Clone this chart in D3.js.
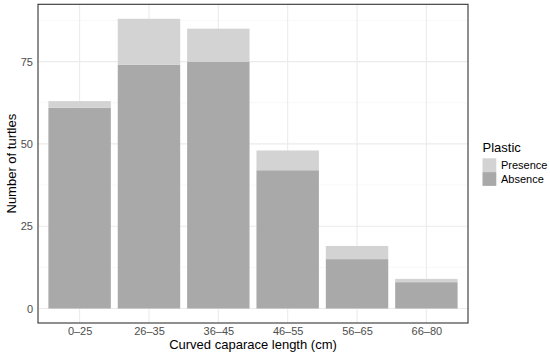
<!DOCTYPE html>
<html><head><meta charset="utf-8">
<script src="https://cdn.jsdelivr.net/npm/d3@7"></script>
<style>body{margin:0;background:#fff}svg{display:block;font-family:"Liberation Sans",Arial,sans-serif}</style>
</head><body><svg id="c" width="550" height="358"></svg>
<script>
const categories = ["0\u201325","26\u201335","36\u201345","46\u201355","56\u201365","66\u201380"];
const absence = [61, 74, 75, 42, 15, 8];
const presence = [2, 14, 10, 6, 4, 1];
const yTicks = [0, 25, 50, 75];
const yMinor = [12.5, 37.5, 62.5, 87.5];
const seriesNames = ["Presence", "Absence"];
const colors = {Presence: "#d3d3d3", Absence: "#a9a9a9"};

const svg = d3.select("#c");
const L = 38, R = 468, T = 4.3, B = 323;
const maxTot = d3.max(absence.map((a,i)=>a+presence[i]));
const y = d3.scaleLinear().domain([-maxTot*0.05, maxTot*1.05]).range([B, T]);
// ggplot: expansion 0.6 units each side, bar width 0.9
const step = (R - L) / (categories.length - 1 + 1.2);
const x = d3.scalePoint().domain(categories).range([L + 0.6*step, R - 0.6*step]);
const bw = 0.9 * step;

const g = svg.append("g");
// grid
g.selectAll(".ymin").data(yMinor).join("line").attr("x1", L).attr("x2", R)
  .attr("y1", d=>y(d)).attr("y2", d=>y(d)).attr("stroke", "#f2f2f2").attr("stroke-width", 0.6);
g.selectAll(".ymaj").data(yTicks).join("line").attr("x1", L).attr("x2", R)
  .attr("y1", d=>y(d)).attr("y2", d=>y(d)).attr("stroke", "#ebebeb").attr("stroke-width", 1.1);
g.selectAll(".xmaj").data(categories).join("line").attr("y1", T).attr("y2", B)
  .attr("x1", d=>x(d)).attr("x2", d=>x(d)).attr("stroke", "#ebebeb").attr("stroke-width", 1.1);

// bars
const stacked = categories.map((c,i)=>({c, a: absence[i], p: presence[i]}));
g.selectAll(".abs").data(stacked).join("rect")
  .attr("x", d=>x(d.c)-bw/2).attr("width", bw)
  .attr("y", d=>y(d.a)).attr("height", d=>y(0)-y(d.a)).attr("fill", colors.Absence);
g.selectAll(".pre").data(stacked).join("rect")
  .attr("x", d=>x(d.c)-bw/2).attr("width", bw)
  .attr("y", d=>y(d.a+d.p)).attr("height", d=>y(d.a)-y(d.a+d.p)).attr("fill", colors.Presence);

// border
svg.append("rect").attr("x", L).attr("y", T).attr("width", R-L).attr("height", B-T)
  .attr("fill", "none").attr("stroke", "#333333").attr("stroke-width", 1.1);

// axes labels
const yAxis = d3.axisLeft(y).tickValues(yTicks).tickSize(0).tickPadding(5);
const ya = svg.append("g").attr("transform", `translate(${L},0)`).call(yAxis);
ya.select(".domain").remove();
ya.selectAll("text").attr("fill", "#4d4d4d").style("font-size", "11px").style("font-family", "Liberation Sans, Arial, sans-serif");

const xAxis = d3.axisBottom(x).tickSize(0).tickPadding(4);
const xa = svg.append("g").attr("transform", `translate(0,${B})`).call(xAxis);
xa.select(".domain").remove();
xa.selectAll("text").attr("fill", "#4d4d4d").style("font-size", "11px").style("font-family", "Liberation Sans, Arial, sans-serif");

svg.append("text").attr("x", (L+R)/2).attr("y", 348.5).attr("text-anchor", "middle")
  .style("font-size", "13px").attr("fill", "#000").text("Curved caparace length (cm)");
svg.append("text").attr("transform", `translate(16,${(T+B)/2}) rotate(-90)`).attr("text-anchor", "middle")
  .style("font-size", "13px").attr("fill", "#000").text("Number of turtles");

// legend
const lg = svg.append("g").attr("transform", "translate(482.5,0)");
lg.append("text").attr("x", 0).attr("y", 151.5).style("font-size", "13px").attr("fill", "#000").text("Plastic");
seriesNames.forEach((s, i) => {
  lg.append("rect").attr("x", 0).attr("y", 158.3 + i*13.8).attr("width", 13.8).attr("height", 13.8).attr("fill", colors[s]);
  lg.append("text").attr("x", 18.5).attr("y", 158.3 + i*13.8 + 10.8).style("font-size", "11px").attr("fill", "#000").text(s);
});
</script></body></html>
